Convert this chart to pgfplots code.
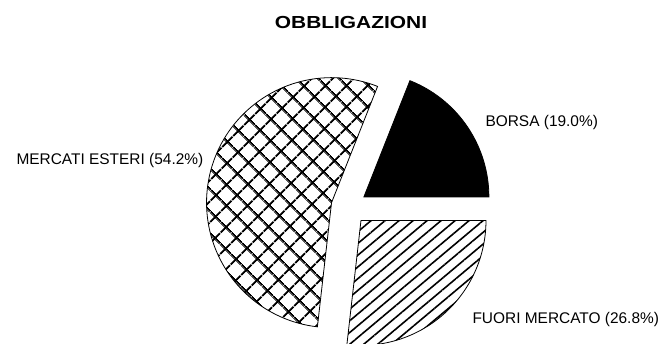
\documentclass[border=0pt]{standalone}
\usepackage{pgfplots}
\pgfplotsset{compat=1.18}
\usepackage{graphicx}
\usepackage{fontspec}
\setmainfont{Liberation Sans}
\usetikzlibrary{patterns.meta}

% shares in percent
\def\pBorsa{19.0}
\def\pEsteri{54.2}
\def\pFuori{26.8}
% pie centre, radius, explode offset (axis units = bp)
\def\cx{349}\def\cy{137}\def\rad{125}\def\ex{18}

% slice from angle #1 to #2, style #3
\newcommand\slice[3]{%
  \pgfmathsetmacro\mid{(#1+#2)/2}%
  \pgfmathsetmacro\tx{\cx+\ex*cos(\mid)}%
  \pgfmathsetmacro\ty{\cy+\ex*sin(\mid)}%
  \edef\tmp{\noexpand\addplot[#3, domain=#1:#2, samples=90]
    ({\tx+\rad*cos(x)},{\ty+\rad*sin(x)}) -- (axis cs:\tx,\ty) -- cycle;}%
  \tmp
}

\begin{document}
\begin{tikzpicture}
\pgfmathsetmacro\aB{3.6*\pBorsa}
\pgfmathsetmacro\aC{\aB+3.6*\pEsteri}
\pgfmathsetmacro\aD{\aC+3.6*\pFuori}
\begin{axis}[
  scale only axis, width=664bp, height=344bp,
  xmin=0, xmax=664, ymin=0, ymax=344,
  hide axis,
]
\slice{0}{\aB}{draw=black, line width=0.8bp, fill=black}
\slice{\aB}{\aC}{draw=black, line width=0.8bp, pattern={Hatch[angle=45,distance=15bp,line width=2bp]}}
\slice{\aC}{\aD}{draw=black, line width=0.8bp, pattern={Lines[angle=40,distance=9bp,line width=1.6bp]}}

\node[font=\bfseries\fontsize{17.5}{20}\selectfont] at (axis cs:351,321) {\scalebox{1.2}[1]{OBBLIGAZIONI}};
\node[anchor=west, font=\fontsize{15.5}{18}\selectfont] at (axis cs:13,183) {MERCATI ESTERI (54.2\%)};
\node[anchor=west, font=\fontsize{15.5}{18}\selectfont] at (axis cs:482,221) {BORSA (19.0\%)};
\node[anchor=west, font=\fontsize{15.5}{18}\selectfont] at (axis cs:469,24) {FUORI MERCATO (26.8\%)};
\path (rel axis cs:0,0) rectangle (rel axis cs:1,1);
\end{axis}
\end{tikzpicture}
\end{document}
